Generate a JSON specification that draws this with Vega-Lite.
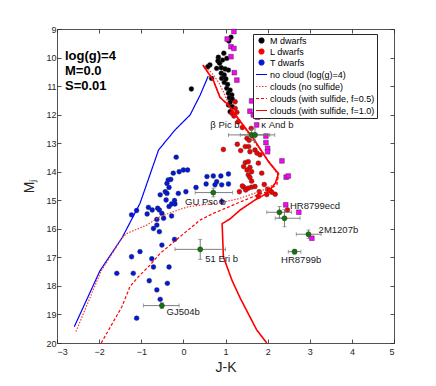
{
  "$schema": "https://vega.github.io/schema/vega-lite/v6.json",
  "width": 337,
  "height": 314,
  "autosize": {"type": "none"},
  "padding": {"left": 57, "top": 29, "right": 42, "bottom": 43},
  "background": "white",
  "config": {
    "view": {"stroke": null},
    "font": "Liberation Sans",
    "axis": {"grid": false, "domainColor": "#262626", "tickColor": "#262626", "labelColor": "#262626", "titleColor": "#262626", "labelFont": "Liberation Sans", "titleFont": "Liberation Sans", "labelFontSize": 9, "titleFontSize": 14, "titleFontWeight": "normal", "domainWidth": 0.8, "tickWidth": 0.8, "labelOverlap": false}
  },
  "datasets": {
    "pts": [
      {"series": "M dwarfs", "x": 1.13, "y": 9.29}, {"series": "M dwarfs", "x": 1.08, "y": 9.42}, {"series": "M dwarfs", "x": 0.96, "y": 9.85},
      {"series": "M dwarfs", "x": 0.83, "y": 9.99}, {"series": "M dwarfs", "x": 1.03, "y": 10.03}, {"series": "M dwarfs", "x": 0.82, "y": 10.12},
      {"series": "M dwarfs", "x": 0.93, "y": 10.09}, {"series": "M dwarfs", "x": 0.86, "y": 10.2}, {"series": "M dwarfs", "x": 0.63, "y": 10.26},
      {"series": "M dwarfs", "x": 0.58, "y": 10.32}, {"series": "M dwarfs", "x": 0.79, "y": 10.38}, {"series": "M dwarfs", "x": 0.9, "y": 10.36},
      {"series": "M dwarfs", "x": 0.99, "y": 10.4}, {"series": "M dwarfs", "x": 1.07, "y": 10.44}, {"series": "M dwarfs", "x": 0.67, "y": 10.73},
      {"series": "M dwarfs", "x": 0.9, "y": 10.55}, {"series": "M dwarfs", "x": 0.97, "y": 10.61}, {"series": "M dwarfs", "x": 0.91, "y": 10.73},
      {"series": "M dwarfs", "x": 1.01, "y": 10.75}, {"series": "M dwarfs", "x": 0.97, "y": 10.87}, {"series": "M dwarfs", "x": 1.05, "y": 10.94},
      {"series": "M dwarfs", "x": 1.03, "y": 11.08}, {"series": "M dwarfs", "x": 1.11, "y": 11.14}, {"series": "M dwarfs", "x": 1.07, "y": 11.25},
      {"series": "M dwarfs", "x": 1.15, "y": 11.31}, {"series": "M dwarfs", "x": 1.09, "y": 11.41}, {"series": "M dwarfs", "x": 1.16, "y": 11.45},
      {"series": "M dwarfs", "x": 1.11, "y": 11.57}, {"series": "M dwarfs", "x": 1.07, "y": 11.66}, {"series": "M dwarfs", "x": 1.16, "y": 11.72},
      {"series": "M dwarfs", "x": 1.11, "y": 11.9}, {"series": "M dwarfs", "x": 0.19, "y": 11.1},
      {"series": "L dwarfs", "x": 1.23, "y": 11.55}, {"series": "L dwarfs", "x": 1.23, "y": 11.78}, {"series": "L dwarfs", "x": 1.15, "y": 11.95},
      {"series": "L dwarfs", "x": 1.27, "y": 11.92}, {"series": "L dwarfs", "x": 1.2, "y": 12.05}, {"series": "L dwarfs", "x": 1.3, "y": 12.25},
      {"series": "L dwarfs", "x": 1.4, "y": 12.45}, {"series": "L dwarfs", "x": 1.61, "y": 12.48}, {"series": "L dwarfs", "x": 1.51, "y": 12.83},
      {"series": "L dwarfs", "x": 1.56, "y": 12.9}, {"series": "L dwarfs", "x": 1.28, "y": 13.04}, {"series": "L dwarfs", "x": 0.95, "y": 13.22},
      {"series": "L dwarfs", "x": 1.47, "y": 13.12}, {"series": "L dwarfs", "x": 1.55, "y": 13.12}, {"series": "L dwarfs", "x": 1.36, "y": 13.26},
      {"series": "L dwarfs", "x": 1.7, "y": 13.24}, {"series": "L dwarfs", "x": 1.75, "y": 13.35}, {"series": "L dwarfs", "x": 1.58, "y": 13.3},
      {"series": "L dwarfs", "x": 1.82, "y": 13.41}, {"series": "L dwarfs", "x": 1.78, "y": 13.7}, {"series": "L dwarfs", "x": 1.47, "y": 13.68},
      {"series": "L dwarfs", "x": 1.54, "y": 13.65}, {"series": "L dwarfs", "x": 1.43, "y": 13.82}, {"series": "L dwarfs", "x": 1.58, "y": 13.85},
      {"series": "L dwarfs", "x": 1.51, "y": 13.94}, {"series": "L dwarfs", "x": 1.62, "y": 14.0}, {"series": "L dwarfs", "x": 1.54, "y": 14.11},
      {"series": "L dwarfs", "x": 1.58, "y": 14.2}, {"series": "L dwarfs", "x": 1.62, "y": 14.33}, {"series": "L dwarfs", "x": 1.86, "y": 14.05},
      {"series": "L dwarfs", "x": 1.7, "y": 14.52}, {"series": "L dwarfs", "x": 1.43, "y": 14.54}, {"series": "L dwarfs", "x": 1.62, "y": 14.54},
      {"series": "L dwarfs", "x": 1.33, "y": 14.7}, {"series": "L dwarfs", "x": 1.8, "y": 14.7}, {"series": "L dwarfs", "x": 2.0, "y": 14.61},
      {"series": "L dwarfs", "x": 2.06, "y": 14.66}, {"series": "L dwarfs", "x": 2.18, "y": 14.79}, {"series": "L dwarfs", "x": 1.78, "y": 14.87},
      {"series": "L dwarfs", "x": 1.98, "y": 14.8}, {"series": "L dwarfs", "x": 1.92, "y": 14.45}, {"series": "L dwarfs", "x": 1.4, "y": 14.5},
      {"series": "L dwarfs", "x": 1.54, "y": 14.58}, {"series": "L dwarfs", "x": 1.48, "y": 14.64}, {"series": "L dwarfs", "x": 2.1, "y": 14.72},
      {"series": "L dwarfs", "x": 2.47, "y": 15.34},
      {"series": "T dwarfs", "x": -0.17, "y": 13.49}, {"series": "T dwarfs", "x": -0.1, "y": 14.0}, {"series": "T dwarfs", "x": 0.0, "y": 13.94},
      {"series": "T dwarfs", "x": 0.1, "y": 13.94}, {"series": "T dwarfs", "x": -0.24, "y": 14.05}, {"series": "T dwarfs", "x": -0.3, "y": 14.27},
      {"series": "T dwarfs", "x": -0.36, "y": 14.29}, {"series": "T dwarfs", "x": -0.39, "y": 14.41}, {"series": "T dwarfs", "x": -0.34, "y": 14.55},
      {"series": "T dwarfs", "x": -0.43, "y": 14.7}, {"series": "T dwarfs", "x": -0.39, "y": 14.76}, {"series": "T dwarfs", "x": -0.55, "y": 14.81},
      {"series": "T dwarfs", "x": -0.12, "y": 14.76}, {"series": "T dwarfs", "x": 0.06, "y": 14.7}, {"series": "T dwarfs", "x": -0.41, "y": 14.99},
      {"series": "T dwarfs", "x": -0.21, "y": 15.01}, {"series": "T dwarfs", "x": -0.2, "y": 15.13}, {"series": "T dwarfs", "x": -0.28, "y": 15.13},
      {"series": "T dwarfs", "x": -0.34, "y": 15.22}, {"series": "T dwarfs", "x": 0.3, "y": 14.55}, {"series": "T dwarfs", "x": -0.83, "y": 15.25},
      {"series": "T dwarfs", "x": -0.74, "y": 15.34}, {"series": "T dwarfs", "x": -0.61, "y": 15.28}, {"series": "T dwarfs", "x": -0.57, "y": 15.34},
      {"series": "T dwarfs", "x": -1.11, "y": 15.36}, {"series": "T dwarfs", "x": -1.23, "y": 15.51}, {"series": "T dwarfs", "x": -0.86, "y": 15.48},
      {"series": "T dwarfs", "x": -0.51, "y": 15.46}, {"series": "T dwarfs", "x": -0.47, "y": 15.63}, {"series": "T dwarfs", "x": -0.63, "y": 15.67},
      {"series": "T dwarfs", "x": -0.28, "y": 15.55}, {"series": "T dwarfs", "x": -0.71, "y": 15.99}, {"series": "T dwarfs", "x": -0.63, "y": 15.87},
      {"series": "T dwarfs", "x": -0.57, "y": 16.1}, {"series": "T dwarfs", "x": -0.21, "y": 16.37}, {"series": "T dwarfs", "x": -0.51, "y": 16.57},
      {"series": "T dwarfs", "x": -1.03, "y": 16.8}, {"series": "T dwarfs", "x": -1.23, "y": 16.98}, {"series": "T dwarfs", "x": -0.75, "y": 17.05},
      {"series": "T dwarfs", "x": -0.71, "y": 17.34}, {"series": "T dwarfs", "x": -0.34, "y": 17.34}, {"series": "T dwarfs", "x": -1.58, "y": 17.56},
      {"series": "T dwarfs", "x": -1.19, "y": 17.56}, {"series": "T dwarfs", "x": -0.81, "y": 17.82}, {"series": "T dwarfs", "x": -0.38, "y": 17.91},
      {"series": "T dwarfs", "x": -0.63, "y": 18.14}, {"series": "T dwarfs", "x": -0.55, "y": 18.47}, {"series": "T dwarfs", "x": -1.11, "y": 19.13},
      {"series": "T dwarfs", "x": 0.56, "y": 14.17}, {"series": "T dwarfs", "x": 0.71, "y": 14.15}, {"series": "T dwarfs", "x": 0.89, "y": 14.15},
      {"series": "T dwarfs", "x": 1.07, "y": 14.08}, {"series": "T dwarfs", "x": 0.79, "y": 14.35}, {"series": "T dwarfs", "x": 0.91, "y": 14.46},
      {"series": "T dwarfs", "x": 0.75, "y": 14.46}, {"series": "T dwarfs", "x": 0.54, "y": 14.43}, {"series": "T dwarfs", "x": 1.07, "y": 14.43},
      {"series": "T dwarfs", "x": 0.91, "y": 15.05}
    ],
    "mag": [
      {"x": 1.2, "y": 9.09}, {"x": 1.04, "y": 9.35}, {"x": 1.13, "y": 9.62}, {"x": 1.2, "y": 9.68}, {"x": 1.13, "y": 9.97},
      {"x": 1.21, "y": 10.53}, {"x": 1.27, "y": 10.79}, {"x": 1.62, "y": 11.52}, {"x": 1.58, "y": 11.88}, {"x": 1.66, "y": 12.01},
      {"x": 1.76, "y": 12.09}, {"x": 1.74, "y": 12.36}, {"x": 1.96, "y": 12.75}, {"x": 1.96, "y": 12.98}, {"x": 2.0, "y": 13.18},
      {"x": 2.0, "y": 13.3}, {"x": 2.34, "y": 13.62}, {"x": 2.44, "y": 14.19}, {"x": 2.49, "y": 14.15}, {"x": 2.43, "y": 15.16},
      {"x": 2.74, "y": 15.42}, {"x": 3.05, "y": 16.33}
    ],
    "lines": [
      {"series": "no cloud (log(g)=4)", "i": 1, "x": -2.59, "y": 19.43}, {"series": "no cloud (log(g)=4)", "i": 2, "x": -1.98, "y": 17.47},
      {"series": "no cloud (log(g)=4)", "i": 3, "x": -1.45, "y": 16.3}, {"series": "no cloud (log(g)=4)", "i": 4, "x": -1.03, "y": 15.11},
      {"series": "no cloud (log(g)=4)", "i": 5, "x": -0.59, "y": 13.24}, {"series": "no cloud (log(g)=4)", "i": 6, "x": -0.2, "y": 12.54},
      {"series": "no cloud (log(g)=4)", "i": 7, "x": 0.16, "y": 12.01}, {"series": "no cloud (log(g)=4)", "i": 8, "x": 0.4, "y": 11.31},
      {"series": "no cloud (log(g)=4)", "i": 9, "x": 0.59, "y": 10.65},
      {"series": "clouds (no sulfide)", "i": 1, "x": -2.55, "y": 19.6}, {"series": "clouds (no sulfide)", "i": 2, "x": -1.96, "y": 17.5},
      {"series": "clouds (no sulfide)", "i": 3, "x": -1.46, "y": 16.33}, {"series": "clouds (no sulfide)", "i": 4, "x": -1.34, "y": 16.16},
      {"series": "clouds (no sulfide)", "i": 5, "x": -0.87, "y": 15.87}, {"series": "clouds (no sulfide)", "i": 6, "x": -0.55, "y": 15.57},
      {"series": "clouds (no sulfide)", "i": 7, "x": -0.24, "y": 15.4}, {"series": "clouds (no sulfide)", "i": 8, "x": 0.08, "y": 15.24},
      {"series": "clouds (no sulfide)", "i": 9, "x": 0.4, "y": 15.17}, {"series": "clouds (no sulfide)", "i": 10, "x": 0.9, "y": 15.08},
      {"series": "clouds (no sulfide)", "i": 11, "x": 1.3, "y": 14.95}, {"series": "clouds (no sulfide)", "i": 12, "x": 1.7, "y": 14.75},
      {"series": "clouds (no sulfide)", "i": 13, "x": 2.0, "y": 14.58}, {"series": "clouds (no sulfide)", "i": 14, "x": 2.22, "y": 14.38},
      {"series": "clouds (no sulfide)", "i": 15, "x": 2.24, "y": 14.1}, {"series": "clouds (no sulfide)", "i": 16, "x": 2.0, "y": 13.6},
      {"series": "clouds (no sulfide)", "i": 17, "x": 1.66, "y": 12.9}, {"series": "clouds (no sulfide)", "i": 18, "x": 1.3, "y": 12.15},
      {"series": "clouds (no sulfide)", "i": 19, "x": 1.08, "y": 11.65}, {"series": "clouds (no sulfide)", "i": 20, "x": 0.95, "y": 11.2},
      {"series": "clouds (no sulfide)", "i": 21, "x": 0.85, "y": 10.9}, {"series": "clouds (no sulfide)", "i": 22, "x": 0.72, "y": 10.62},
      {"series": "clouds (no sulfide)", "i": 23, "x": 0.55, "y": 10.35},
      {"series": "clouds (with sulfide, f=0.5)", "i": 1, "x": -1.95, "y": 20.0}, {"series": "clouds (with sulfide, f=0.5)", "i": 2, "x": -1.46, "y": 18.73},
      {"series": "clouds (with sulfide, f=0.5)", "i": 3, "x": -1.27, "y": 18.03}, {"series": "clouds (with sulfide, f=0.5)", "i": 4, "x": -1.07, "y": 17.68},
      {"series": "clouds (with sulfide, f=0.5)", "i": 5, "x": -0.79, "y": 17.27}, {"series": "clouds (with sulfide, f=0.5)", "i": 6, "x": -0.55, "y": 16.86},
      {"series": "clouds (with sulfide, f=0.5)", "i": 7, "x": -0.22, "y": 16.45}, {"series": "clouds (with sulfide, f=0.5)", "i": 8, "x": 0.4, "y": 15.69},
      {"series": "clouds (with sulfide, f=0.5)", "i": 9, "x": 0.71, "y": 15.46}, {"series": "clouds (with sulfide, f=0.5)", "i": 10, "x": 1.19, "y": 15.16},
      {"series": "clouds (with sulfide, f=0.5)", "i": 11, "x": 1.66, "y": 14.87}, {"series": "clouds (with sulfide, f=0.5)", "i": 12, "x": 1.98, "y": 14.7},
      {"series": "clouds (with sulfide, f=0.5)", "i": 13, "x": 2.22, "y": 14.45}, {"series": "clouds (with sulfide, f=0.5)", "i": 14, "x": 2.26, "y": 14.1},
      {"series": "clouds (with sulfide, f=0.5)", "i": 15, "x": 2.02, "y": 13.62}, {"series": "clouds (with sulfide, f=0.5)", "i": 16, "x": 1.66, "y": 12.85},
      {"series": "clouds (with sulfide, f=0.5)", "i": 17, "x": 1.07, "y": 11.7}, {"series": "clouds (with sulfide, f=0.5)", "i": 18, "x": 0.87, "y": 11.38},
      {"series": "clouds (with sulfide, f=0.5)", "i": 19, "x": 0.71, "y": 10.82}, {"series": "clouds (with sulfide, f=0.5)", "i": 20, "x": 0.48, "y": 10.28},
      {"series": "clouds (with sulfide, f=1.0)", "i": 1, "x": 0.46, "y": 10.26}, {"series": "clouds (with sulfide, f=1.0)", "i": 2, "x": 0.71, "y": 10.79},
      {"series": "clouds (with sulfide, f=1.0)", "i": 3, "x": 0.87, "y": 11.4}, {"series": "clouds (with sulfide, f=1.0)", "i": 4, "x": 1.07, "y": 11.66},
      {"series": "clouds (with sulfide, f=1.0)", "i": 5, "x": 1.36, "y": 12.25}, {"series": "clouds (with sulfide, f=1.0)", "i": 6, "x": 1.66, "y": 12.83},
      {"series": "clouds (with sulfide, f=1.0)", "i": 7, "x": 2.02, "y": 13.65}, {"series": "clouds (with sulfide, f=1.0)", "i": 8, "x": 2.26, "y": 14.06},
      {"series": "clouds (with sulfide, f=1.0)", "i": 9, "x": 2.18, "y": 14.41}, {"series": "clouds (with sulfide, f=1.0)", "i": 10, "x": 1.98, "y": 14.76},
      {"series": "clouds (with sulfide, f=1.0)", "i": 11, "x": 1.7, "y": 14.99}, {"series": "clouds (with sulfide, f=1.0)", "i": 12, "x": 1.35, "y": 15.34},
      {"series": "clouds (with sulfide, f=1.0)", "i": 13, "x": 1.11, "y": 15.65}, {"series": "clouds (with sulfide, f=1.0)", "i": 14, "x": 0.92, "y": 15.82},
      {"series": "clouds (with sulfide, f=1.0)", "i": 15, "x": 0.95, "y": 16.98}, {"series": "clouds (with sulfide, f=1.0)", "i": 16, "x": 1.15, "y": 17.79},
      {"series": "clouds (with sulfide, f=1.0)", "i": 17, "x": 1.35, "y": 18.43}, {"series": "clouds (with sulfide, f=1.0)", "i": 18, "x": 1.74, "y": 19.54},
      {"series": "clouds (with sulfide, f=1.0)", "i": 19, "x": 1.98, "y": 20.0}
    ],
    "comp": [
      {"name": "GJ504b", "x": -0.51, "y": 18.69, "xlo": -0.95, "xhi": -0.1, "ylo": 18.59, "yhi": 18.79},
      {"name": "51 Eri b", "x": 0.4, "y": 16.72, "xlo": -0.2, "xhi": 1.0, "ylo": 16.37, "yhi": 17.07},
      {"name": "GU Psc b", "x": 0.71, "y": 14.73, "xlo": 0.28, "xhi": 1.17, "ylo": 14.58, "yhi": 14.88},
      {"name": "β Pic b", "x": 1.62, "y": 12.71, "xlo": 1.07, "xhi": 2.17, "ylo": 12.51, "yhi": 12.91},
      {"name": "κ And b", "x": 1.7, "y": 12.71, "xlo": 1.35, "xhi": 2.05, "ylo": 12.46, "yhi": 12.96},
      {"name": "HR8799e", "x": 2.28, "y": 15.42, "xlo": 1.98, "xhi": 2.57, "ylo": 15.22, "yhi": 15.62},
      {"name": "HR8799c", "x": 2.4, "y": 15.63, "xlo": 2.18, "xhi": 2.77, "ylo": 15.33, "yhi": 15.93},
      {"name": "2M1207b", "x": 2.97, "y": 16.19, "xlo": 2.68, "xhi": 3.27, "ylo": 16.04, "yhi": 16.34},
      {"name": "HR8799b", "x": 2.64, "y": 16.8, "xlo": 2.49, "xhi": 2.79, "ylo": 16.72, "yhi": 16.88}
    ],
    "labels": [
      {"text": "β Pic b", "x": 0.64, "y": 12.48},
      {"text": "κ And b", "x": 1.85, "y": 12.47},
      {"text": "GU Psc b", "x": 0.04, "y": 15.18},
      {"text": "HR8799ecd", "x": 2.53, "y": 15.29},
      {"text": "2M1207b", "x": 3.21, "y": 16.15},
      {"text": "HR8799b", "x": 2.32, "y": 17.21},
      {"text": "51 Eri b", "x": 0.52, "y": 17.15},
      {"text": "GJ504b", "x": -0.4, "y": 19.02}
    ],
    "ann": [
      {"text": "log(g)=4", "x": -2.81, "y": 10.09},
      {"text": "M=0.0", "x": -2.81, "y": 10.61},
      {"text": "S=0.01", "x": -2.81, "y": 11.14}
    ]
  },
  "layer": [
    {
      "layer": [
        {
          "data": {"name": "pts"},
          "mark": {"type": "point", "filled": true, "stroke": "#333333", "strokeWidth": 0.4, "opacity": 1},
          "encoding": {
            "x": {"field": "x", "type": "quantitative", "scale": {"domain": [-3, 5], "nice": false, "zero": false},
                  "axis": {"orient": "bottom", "title": "J-K", "values": [-3, -2, -1, 0, 1, 2, 3, 4, 5], "tickCount": 9, "tickSize": -4, "labelPadding": 8, "titlePadding": 4, "labelOverlap": false}},
            "y": {"field": "y", "type": "quantitative", "scale": {"domain": [9, 20], "nice": false, "zero": false, "reverse": true},
                  "axis": {"orient": "left", "title": "Mⱼ", "values": [9, 10, 11, 12, 13, 14, 15, 16, 17, 18, 19, 20], "tickCount": 12, "tickSize": -4, "labelPadding": 5, "titlePadding": 9, "labelOverlap": false}},
            "color": {
              "field": "series", "type": "nominal",
              "scale": {
                "domain": ["M dwarfs", "L dwarfs", "T dwarfs", "no cloud (log(g)=4)", "clouds (no sulfide)", "clouds (with sulfide, f=0.5)", "clouds (with sulfide, f=1.0)"],
                "range": ["#000000", "#f00000", "#0018d8", "#0000ff", "#ff3333", "#ff0000", "#ff0000"]
              },
              "legend": {
                "title": null, "orient": "none", "legendX": 196, "legendY": 5,
                "strokeColor": "#262626", "fillColor": "white", "padding": 2,
                "labelFont": "Liberation Sans", "labelFontSize": 9, "labelColor": "#000000", "labelOffset": 2,
                "symbolSize": 121, "rowPadding": 0, "labelLimit": 300, "symbolStrokeWidth": 1.2
              }
            },
            "shape": {
              "field": "series", "type": "nominal",
              "scale": {
                "domain": ["M dwarfs", "L dwarfs", "T dwarfs", "no cloud (log(g)=4)", "clouds (no sulfide)", "clouds (with sulfide, f=0.5)", "clouds (with sulfide, f=1.0)"],
                "range": ["circle", "circle", "circle", "stroke", "stroke", "stroke", "stroke"]
              },
              "legend": {"title": null}
            },
            "size": {
              "field": "series", "type": "ordinal",
              "scale": {
                "type": "ordinal",
                "domain": ["M dwarfs", "L dwarfs", "T dwarfs", "no cloud (log(g)=4)", "clouds (no sulfide)", "clouds (with sulfide, f=0.5)", "clouds (with sulfide, f=1.0)"],
                "range": [24, 24, 24, 121, 121, 121, 121]
              },
              "legend": {"title": null}
            }
          }
        },
        {
          "data": {"name": "lines"},
          "mark": {"type": "line", "clip": true},
          "encoding": {
            "x": {"field": "x", "type": "quantitative"},
            "y": {"field": "y", "type": "quantitative"},
            "order": {"field": "i", "type": "quantitative"},
            "color": {"field": "series", "type": "nominal"},
            "strokeDash": {"field": "series", "type": "nominal",
              "scale": {"domain": ["M dwarfs", "L dwarfs", "T dwarfs", "no cloud (log(g)=4)", "clouds (no sulfide)", "clouds (with sulfide, f=0.5)", "clouds (with sulfide, f=1.0)"],
                        "range": [[1, 0], [1, 0], [1, 0], [1, 0], [1.5, 1.5], [3, 2], [1, 0]]},
              "legend": {"title": null}},
            "strokeWidth": {"condition": {"test": "datum.series === 'clouds (with sulfide, f=1.0)'", "value": 1.6},
                            "value": 1.2}
          }
        },
        {
          "data": {"name": "mag"},
          "mark": {"type": "point", "shape": "square", "filled": true, "size": 22, "color": "#ff00ff", "stroke": "#333333", "strokeWidth": 0.5, "opacity": 1},
          "encoding": {
            "x": {"field": "x", "type": "quantitative"},
            "y": {"field": "y", "type": "quantitative"}
          }
        },
        {
          "data": {"name": "comp"},
          "mark": {"type": "rule", "color": "#707070", "strokeWidth": 0.9},
          "encoding": {
            "x": {"field": "xlo", "type": "quantitative"},
            "x2": {"field": "xhi"},
            "y": {"field": "y", "type": "quantitative"}
          }
        },
        {
          "data": {"name": "comp"},
          "mark": {"type": "rule", "color": "#707070", "strokeWidth": 0.9},
          "encoding": {
            "x": {"field": "x", "type": "quantitative"},
            "y": {"field": "ylo", "type": "quantitative"},
            "y2": {"field": "yhi"}
          }
        },
        {
          "data": {"name": "comp"},
          "mark": {"type": "tick", "orient": "vertical", "color": "#707070", "size": 4, "thickness": 0.9},
          "encoding": {
            "x": {"field": "xlo", "type": "quantitative"},
            "y": {"field": "y", "type": "quantitative"}
          }
        },
        {
          "data": {"name": "comp"},
          "mark": {"type": "tick", "orient": "vertical", "color": "#707070", "size": 4, "thickness": 0.9},
          "encoding": {
            "x": {"field": "xhi", "type": "quantitative"},
            "y": {"field": "y", "type": "quantitative"}
          }
        },
        {
          "data": {"name": "comp"},
          "mark": {"type": "tick", "orient": "horizontal", "color": "#707070", "size": 4, "thickness": 0.9},
          "encoding": {
            "x": {"field": "x", "type": "quantitative"},
            "y": {"field": "ylo", "type": "quantitative"}
          }
        },
        {
          "data": {"name": "comp"},
          "mark": {"type": "tick", "orient": "horizontal", "color": "#707070", "size": 4, "thickness": 0.9},
          "encoding": {
            "x": {"field": "x", "type": "quantitative"},
            "y": {"field": "yhi", "type": "quantitative"}
          }
        },
        {
          "data": {"name": "comp"},
          "mark": {"type": "point", "shape": "circle", "filled": true, "size": 26, "color": "#0b7a0b", "stroke": "#333333", "strokeWidth": 0.5, "opacity": 1},
          "encoding": {
            "x": {"field": "x", "type": "quantitative"},
            "y": {"field": "y", "type": "quantitative"}
          }
        },
        {
          "data": {"name": "labels"},
          "mark": {"type": "text", "align": "left", "baseline": "alphabetic", "font": "Liberation Sans", "fontSize": 9.5, "color": "#1a1a1a"},
          "encoding": {
            "x": {"field": "x", "type": "quantitative"},
            "y": {"field": "y", "type": "quantitative"},
            "text": {"field": "text", "type": "nominal"}
          }
        }
      ]
    },
    {
      "data": {"name": "ann"},
      "mark": {"type": "text", "align": "left", "baseline": "alphabetic", "font": "Liberation Sans", "fontSize": 13, "fontWeight": "bold", "color": "#000000"},
      "encoding": {
        "x": {"field": "x", "type": "quantitative",
              "axis": {"orient": "top", "labels": false, "title": null, "values": [-3, -2, -1, 0, 1, 2, 3, 4, 5], "tickCount": 9, "tickSize": -4}},
        "y": {"field": "y", "type": "quantitative",
              "axis": {"orient": "right", "labels": false, "title": null, "values": [9, 10, 11, 12, 13, 14, 15, 16, 17, 18, 19, 20], "tickCount": 12, "tickSize": -4}},
        "text": {"field": "text", "type": "nominal"}
      }
    }
  ],
  "resolve": {"axis": {"x": "independent", "y": "independent"}}
}
